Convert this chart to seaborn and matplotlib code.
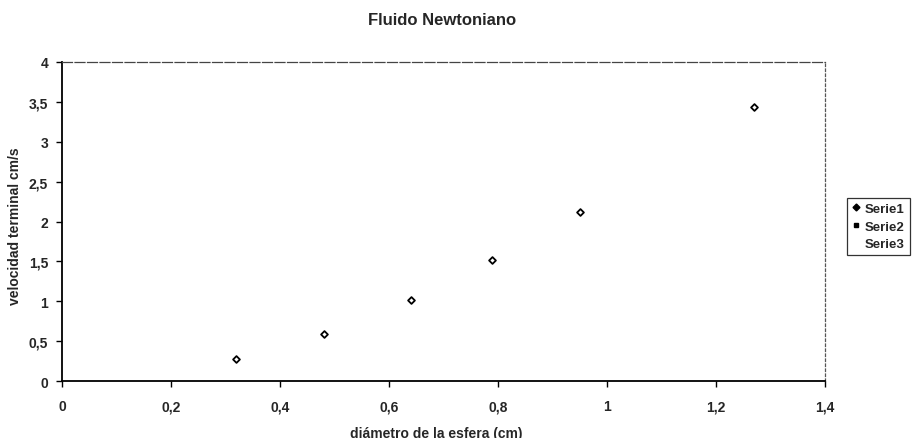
import matplotlib
matplotlib.use("Agg")
import matplotlib.pyplot as plt
from matplotlib.ticker import FuncFormatter, MultipleLocator
from matplotlib.lines import Line2D
import seaborn as sns
import pandas as pd

# Terminal velocity measurements of spheres in a Newtonian fluid
diametro = [0.32, 0.48, 0.64, 0.79, 0.95, 1.27]
velocidad = [0.27, 0.59, 1.02, 1.52, 2.12, 3.44]
series_names = ["Serie1", "Serie2", "Serie3"]

sns.set_style("white")
plt.rcParams["font.family"] = ["Liberation Sans", "DejaVu Sans"]

fig = plt.figure(figsize=(9.19, 4.39), dpi=100)
ax = fig.add_axes([0.0675, 0.1298, 0.830, 0.7267])

df = pd.DataFrame({"d": diametro, "v": velocidad})
sns.scatterplot(data=df, x="d", y="v", ax=ax, marker="D", s=12,
                facecolor="white", edgecolor="black", linewidth=1.3,
                legend=False, zorder=3)

ax.set_xlim(0, 1.4)
ax.set_ylim(0, 4)
ax.xaxis.set_major_locator(MultipleLocator(0.2))
ax.yaxis.set_major_locator(MultipleLocator(0.5))

def comma(v, pos):
    s = f"{v:.1f}".rstrip("0").rstrip(".")
    return s.replace(".", ",")

ax.xaxis.set_major_formatter(FuncFormatter(comma))
ax.yaxis.set_major_formatter(FuncFormatter(comma))

ax.tick_params(axis="both", which="major", direction="out", length=4,
               width=1, color="black", labelsize=10,
               bottom=True, left=True)
ax.tick_params(axis="x", pad=9)
ax.tick_params(axis="y", pad=6)
for lab in ax.get_xticklabels() + ax.get_yticklabels():
    lab.set_fontweight("bold")

ax.spines["left"].set_color("black")
ax.spines["left"].set_linewidth(1.3)
ax.spines["bottom"].set_color("black")
ax.spines["bottom"].set_linewidth(1.3)
ax.spines["top"].set_color("#444444")
ax.spines["top"].set_linewidth(0.9)
ax.spines["top"].set_linestyle((0, (8, 2)))
ax.spines["right"].set_color("#555555")
ax.spines["right"].set_linewidth(0.9)
ax.spines["right"].set_linestyle((0, (2, 2)))

ax.set_xlabel("diámetro de la esfera (cm)", fontsize=10, fontweight="bold")
ax.xaxis.set_label_coords(0.49, -0.14)
ax.set_ylabel("velocidad terminal cm/s", fontsize=10, fontweight="bold")
ax.yaxis.set_label_coords(-0.053, 0.49)
fig.suptitle("Fluido Newtoniano", x=0.481, y=0.97, fontsize=12,
             fontweight="bold")

handles = [
    Line2D([], [], linestyle="none", marker="D", markersize=3.5,
           color="black"),
    Line2D([], [], linestyle="none", marker="s", markersize=3.5,
           color="black"),
    Line2D([], [], linestyle="none", marker="", color="black"),
]
leg = fig.legend(handles, series_names, loc="center left",
                 bbox_to_anchor=(0.922, 0.482), frameon=True,
                 fontsize=9.5, handlelength=0.6, handletextpad=0.4,
                 borderpad=0.35, labelspacing=0.4, fancybox=False,
                 borderaxespad=0)
leg.get_frame().set_edgecolor("black")
leg.get_frame().set_linewidth(0.9)
for t in leg.get_texts():
    t.set_fontweight("bold")

fig.savefig("out.png", dpi=100)
